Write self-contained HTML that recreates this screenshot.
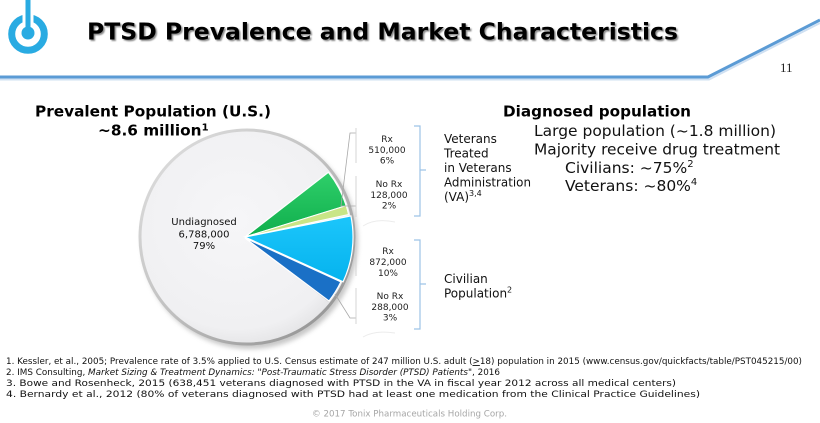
<!DOCTYPE html>
<html>
<head>
<meta charset="utf-8">
<style>
  html,body{margin:0;padding:0;background:#fff;}
  svg{display:block;}
  text{font-family:"DejaVu Sans","Liberation Sans",sans-serif;}
</style>
</head>
<body>
<svg width="820" height="423" viewBox="0 0 820 423" xmlns="http://www.w3.org/2000/svg">
  <defs>
    <radialGradient id="pieFill" cx="0.45" cy="0.42" r="0.6">
      <stop offset="0" stop-color="#f6f6f8"/>
      <stop offset="0.85" stop-color="#f0f0f2"/>
      <stop offset="1" stop-color="#e4e4e6"/>
    </radialGradient>
    <linearGradient id="rim" x1="0" y1="0" x2="1" y2="1">
      <stop offset="0" stop-color="#e2e2e2"/>
      <stop offset="0.5" stop-color="#c0c0c0"/>
      <stop offset="1" stop-color="#8a8a8a"/>
    </linearGradient>
    <filter id="blur" x="-20%" y="-20%" width="140%" height="140%">
      <feGaussianBlur stdDeviation="2.5"/>
    </filter>
    <filter id="tblur" x="-5%" y="-20%" width="110%" height="140%">
      <feGaussianBlur stdDeviation="0.8"/>
    </filter>
    <linearGradient id="gGreen" x1="0" y1="0" x2="0" y2="1">
      <stop offset="0" stop-color="#2fcf6a"/>
      <stop offset="1" stop-color="#0fae4c"/>
    </linearGradient>
    <linearGradient id="gCyan" x1="0" y1="0" x2="0" y2="1">
      <stop offset="0" stop-color="#1cc6fb"/>
      <stop offset="1" stop-color="#05b3ee"/>
    </linearGradient>
  </defs>

  <!-- Logo -->
  <circle cx="28" cy="34" r="16.3" fill="none" stroke="#29abe2" stroke-width="7"/>
  <rect x="22.5" y="0" width="11" height="23" fill="#fff"/>
  <rect x="25.5" y="0" width="5" height="32" fill="#29abe2"/>
  <circle cx="28" cy="33" r="6.5" fill="#29abe2"/>

  <!-- Title -->
  <text x="88.5" y="41" font-size="23" font-weight="bold" fill="#8a8a8a" textLength="591" lengthAdjust="spacingAndGlyphs" filter="url(#tblur)">PTSD Prevalence and Market Characteristics</text>
  <text x="87" y="39.5" font-size="23" font-weight="bold" fill="#000" textLength="591" lengthAdjust="spacingAndGlyphs">PTSD Prevalence and Market Characteristics</text>

  <!-- Header line -->
  <polyline points="0,79.5 709,79.5 820,23" fill="none" stroke="#cfe0f2" stroke-width="2"/>
  <polyline points="0,77 708,77 820,20" fill="none" stroke="#5b9bd5" stroke-width="3"/>
  <text x="780" y="72" font-size="13" fill="#222" style="font-family:'Liberation Serif',serif">11</text>

  <!-- Left heading -->
  <text x="35" y="116.5" font-size="15.3" font-weight="bold" fill="#000" textLength="236" lengthAdjust="spacingAndGlyphs">Prevalent Population (U.S.)</text>
  <text x="98" y="135.5" font-size="15.3" font-weight="bold" fill="#000">~8.6 million<tspan font-size="10" dy="-5">1</tspan></text>

  <!-- Pie shadow -->
  <circle cx="250" cy="241" r="108" fill="#9a9a9a" opacity="0.55" filter="url(#blur)"/>
  <!-- Pie base -->
  <circle cx="247" cy="237" r="107" fill="url(#pieFill)" stroke="url(#rim)" stroke-width="3"/>

  <!-- wedge shadow lines -->
  <path d="M246,237 L329,301" stroke="#9a9a9a" stroke-width="2" opacity="0.6"/>
  <path d="M246,237 L329,173" stroke="#aaaaaa" stroke-width="2" opacity="0.5"/>

  <!-- Green -->
  <path d="M245,237 L328.4,172.3 A104,104 0 0,1 346.2,205.7 Z" fill="url(#gGreen)" stroke="#ffffff" stroke-width="1.2"/>
  <!-- Light green -->
  <path d="M245,237 L346.2,205.7 A104,104 0 0,1 348.5,214.5 Z" fill="#c9e586" stroke="#ffffff" stroke-width="1"/>
  <!-- Cyan -->
  <path d="M245,237 L350.9,215.9 A106,106 0 0,1 343.1,281.8 Z" fill="url(#gCyan)" stroke="#ffffff" stroke-width="1.2"/>
  <!-- Dark blue -->
  <path d="M245,238 L340.9,281.8 A104,104 0 0,1 329.0,301.0 Z" fill="#1a70c6" stroke="#ffffff" stroke-width="1.2"/>

  <!-- Undiagnosed label -->
  <g font-size="10" fill="#111" text-anchor="middle">
    <text x="204" y="225">Undiagnosed</text>
    <text x="204" y="237.5">6,788,000</text>
    <text x="204" y="249">79%</text>
  </g>

  <!-- leader lines -->
  <g stroke="#a8a8a8" stroke-width="0.8" fill="none">
    <path d="M356,133 L350,133 L341,206 L356,206"/>
    <path d="M335,294 L350,318 L356,318"/>
  </g>
  <g stroke="#d4d4d4" stroke-width="1" fill="none">
    <line x1="356" y1="128" x2="356" y2="163"/>
    <line x1="356" y1="176" x2="356" y2="217"/>
    <line x1="356" y1="242" x2="356" y2="276"/>
    <line x1="356" y1="288" x2="356" y2="324"/>
  </g>
  <!-- faint curves -->
  <path d="M363,226 Q375,218 395,222" stroke="#ececec" stroke-width="1" fill="none"/>
  <path d="M363,337 Q375,330 395,333" stroke="#ececec" stroke-width="1" fill="none"/>

  <!-- slice labels -->
  <g font-size="9" fill="#222" text-anchor="middle">
    <text x="387" y="142">Rx</text>
    <text x="387" y="153">510,000</text>
    <text x="387" y="163.5">6%</text>
    <text x="389" y="187">No Rx</text>
    <text x="389" y="198">128,000</text>
    <text x="389" y="208.5">2%</text>
    <text x="388" y="254">Rx</text>
    <text x="388" y="265">872,000</text>
    <text x="388" y="276">10%</text>
    <text x="390" y="299">No Rx</text>
    <text x="390" y="310">288,000</text>
    <text x="390" y="320.5">3%</text>
  </g>

  <!-- brackets -->
  <g stroke="#9dc3e6" stroke-width="1.2" fill="none">
    <path d="M414,126 L420,126 L420,216 L414,216 M420,170 L426,170"/>
    <path d="M414,240 L420,240 L420,329 L414,329 M420,284 L426,284"/>
  </g>

  <!-- Group labels -->
  <g font-size="12" fill="#111">
    <text x="444" y="143">Veterans</text>
    <text x="444" y="157.5">Treated</text>
    <text x="444" y="172">in Veterans</text>
    <text x="444" y="186.5" textLength="87" lengthAdjust="spacingAndGlyphs">Administration</text>
    <text x="444" y="201">(VA)<tspan font-size="8" dy="-5">3,4</tspan></text>
    <text x="444" y="283">Civilian</text>
    <text x="444" y="297.5">Population<tspan font-size="8" dy="-5">2</tspan></text>
  </g>

  <!-- Diagnosed population -->
  <text x="503" y="116.5" font-size="15.2" font-weight="bold" fill="#000" textLength="188" lengthAdjust="spacingAndGlyphs">Diagnosed population</text>
  <g font-size="15.5" fill="#111">
    <text x="534" y="136" textLength="242" lengthAdjust="spacingAndGlyphs">Large population (~1.8 million)</text>
    <text x="534" y="154.5" textLength="246" lengthAdjust="spacingAndGlyphs">Majority receive drug treatment</text>
    <text x="565" y="173">Civilians: ~75%<tspan font-size="10" dy="-6">2</tspan></text>
    <text x="565" y="191">Veterans: ~80%<tspan font-size="10" dy="-6">4</tspan></text>
  </g>

  <!-- Footnotes -->
  <g fill="#111" font-size="9">
    <text x="6" y="364" textLength="796" lengthAdjust="spacingAndGlyphs">1. Kessler, et al., 2005; Prevalence rate of 3.5% applied to U.S. Census estimate of 247 million U.S. adult (<tspan text-decoration="underline">&gt;</tspan>18) population in 2015 (www.census.gov/quickfacts/table/PST045215/00)</text>
    <text x="6" y="375" textLength="494" lengthAdjust="spacingAndGlyphs">2. IMS Consulting, <tspan font-style="italic">Market Sizing &amp; Treatment Dynamics: "Post-Traumatic Stress Disorder (PTSD) Patients"</tspan>, 2016</text>
    <text x="6" y="386" textLength="670" lengthAdjust="spacingAndGlyphs">3. Bowe and Rosenheck, 2015 (638,451 veterans diagnosed with PTSD in the VA in fiscal year 2012 across all medical centers)</text>
    <text x="6" y="397" textLength="694" lengthAdjust="spacingAndGlyphs">4. Bernardy et al., 2012 (80% of veterans diagnosed with PTSD had at least one medication from the Clinical Practice Guidelines)</text>
  </g>
  <text x="312" y="416.5" font-size="8.6" fill="#a6a6a6" textLength="195" lengthAdjust="spacingAndGlyphs">© 2017 Tonix Pharmaceuticals Holding Corp.</text>
</svg>
</body>
</html>
